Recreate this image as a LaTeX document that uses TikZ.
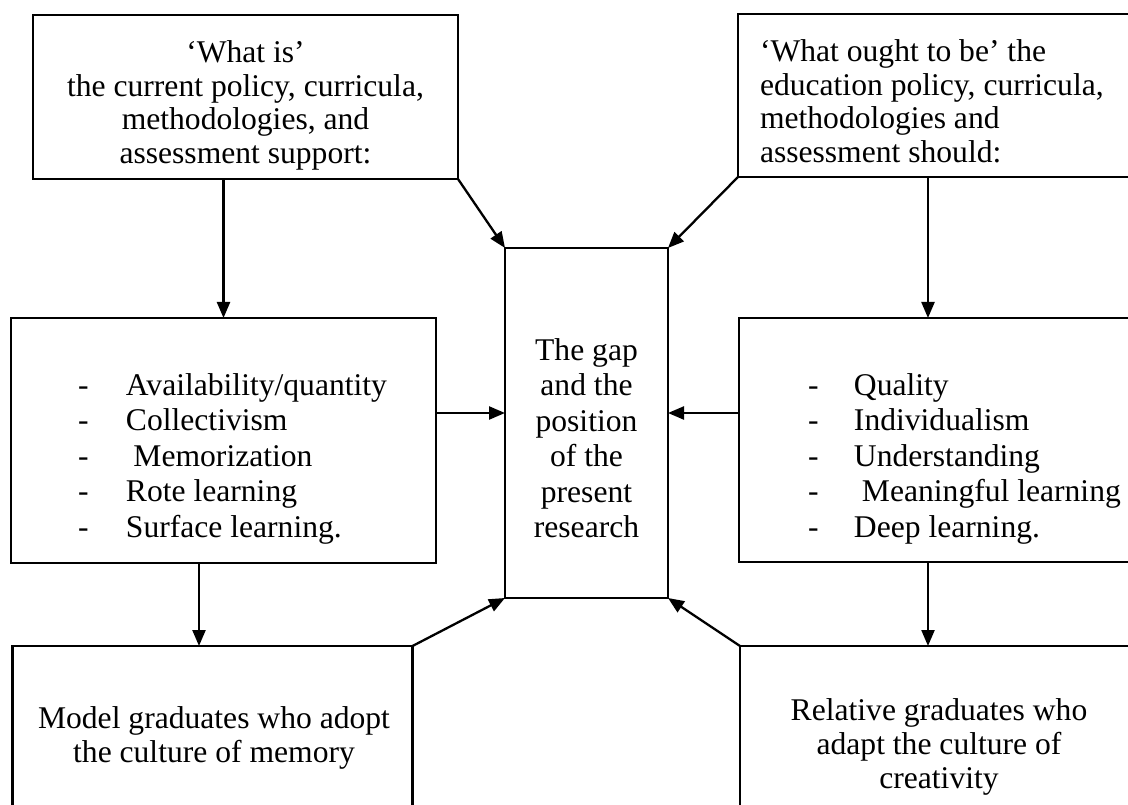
\documentclass[tikz,border=0pt]{standalone}
\usepackage{fontspec}
\setmainfont{Liberation Serif}
\usetikzlibrary{arrows.meta}
\tikzset{
  box/.style={draw, line width=2.3pt, inner sep=0pt, outer sep=0pt, anchor=north west},
  lbl/.style={inner sep=0pt, outer sep=0pt},
  arr/.style={line width=2.3pt, -{Triangle[length=16pt,width=13pt]}},
}
\newcommand\fsTop{\fontsize{31.6}{33.5}\selectfont}
\newcommand\fsMid{\fontsize{31.6}{35.6}\selectfont}
\newcommand\fsBot{\fontsize{31.6}{34}\selectfont}
\begin{document}
\begin{tikzpicture}[x=1pt,y=-1pt]
\useasboundingbox (0,0) rectangle (1128,805);
% boxes
\node[box, minimum width=425pt, minimum height=164pt] (tl) at (33,15) {};
\node[box, minimum width=400pt, minimum height=163pt] (tr) at (738,14) {};
\node[box, minimum width=163pt, minimum height=350pt] (c) at (505,248) {};
\node[box, minimum width=425pt, minimum height=245pt] (ml) at (11,318) {};
\node[box, minimum width=400pt, minimum height=244pt] (mr) at (739,318) {};
\node[box, minimum width=400pt, minimum height=170pt] (bl) at (12.5,646) {};
\node[box, minimum width=400pt, minimum height=170pt] (br) at (740,646) {};
% texts
\node[lbl, anchor=base] (tltext) at (245.5,63) {\fsTop\begin{tabular}[t]{@{}c@{}}‘What is’\\ the current policy, curricula,\\ methodologies, and\\ assessment support:\end{tabular}};
\node[lbl, anchor=base west] (trtext) at (760,62) {\fsTop\begin{tabular}[t]{@{}l@{}}‘What ought to be’ the\\ education policy, curricula,\\ methodologies and\\ assessment should:\end{tabular}};
\node[lbl, anchor=base] (ctext) at (586.5,360) {\fsMid\begin{tabular}[t]{@{}c@{}}The gap\\ and the\\ position\\ of the\\ present\\ research\end{tabular}};
\node[lbl, anchor=base west] (mltext) at (78,395) {\fsMid\begin{tabular}[t]{@{}p{48pt}@{}l@{}}-&Availability/quantity\\ -&Collectivism\\ -&\hspace*{7.5pt}Memorization\\ -&Rote learning\\ -&Surface learning.\end{tabular}};
\node[lbl, anchor=base west] (mrtext) at (808,395) {\fsMid\begin{tabular}[t]{@{}p{46pt}@{}l@{}}-&Quality\\ -&Individualism\\ -&Understanding\\ -&\hspace*{8pt}Meaningful learning\\ -&Deep learning.\end{tabular}};
\node[lbl, anchor=base] (bltext) at (214,728) {\fsBot\begin{tabular}[t]{@{}c@{}}Model graduates who adopt\\ the culture of memory\end{tabular}};
\node[lbl, anchor=base] (brtext) at (939,720) {\fsBot\begin{tabular}[t]{@{}c@{}}Relative graduates who\\ adapt the culture of\\ creativity\end{tabular}};
% helper coordinates
\coordinate (xr) at (928,0);
\coordinate (xl) at (199,0);
\coordinate (ym) at (0,413);
% connectors
\draw[arr] (tl.south -| ml.north) -- (ml.north);
\draw[arr] (tl.south east) -- (c.north west);
\draw[arr] (tr.south west) -- (c.north east);
\draw[arr] (tr.south -| xr) -- (mr.north -| xr);
\draw[arr] (ml.east |- ym) -- (c.west |- ym);
\draw[arr] (mr.west |- ym) -- (c.east |- ym);
\draw[arr] (ml.south -| xl) -- (bl.north -| xl);
\draw[arr] (mr.south -| xr) -- (br.north -| xr);
\draw[arr] (bl.north east) -- (c.south west);
\draw[arr] (br.north west) -- (c.south east);
\end{tikzpicture}
\end{document}
